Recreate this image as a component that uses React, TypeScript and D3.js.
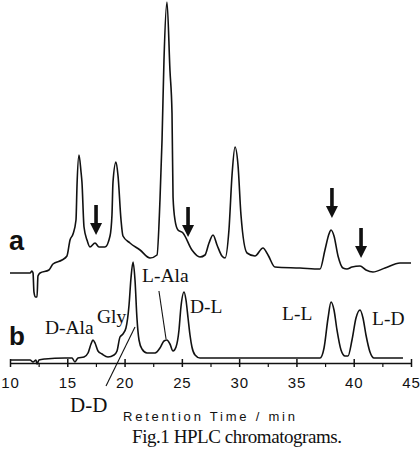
import { useEffect, useRef } from 'react'
import * as d3 from 'd3'

// trace a (sample): retention time / min, detector signal (a.u.)
const traceATime = [
  10.0, 11.75, 11.92, 12.01, 12.09, 12.23, 12.36, 12.44, 12.62, 13.4, 13.75, 14.54, 14.97, 15.24, 15.5,
  15.76, 15.85, 16.02, 16.2, 16.28, 16.46, 16.72, 16.98, 17.42, 17.77, 18.29, 18.73, 18.9, 18.99, 19.25,
  19.43, 19.69, 19.86, 20.47, 21.35, 22.22, 22.83, 23.09, 23.27, 23.44, 23.7, 23.96, 24.14, 24.23, 24.4,
  24.66, 25.1, 25.88, 26.58, 27.02, 27.37, 27.72, 28.07, 28.5, 28.77, 29.11, 29.38, 29.64, 29.9, 30.16,
  30.69, 31.38, 32.08, 32.52, 33.13, 35.31, 37.06, 37.49, 37.84, 38.02, 38.28, 38.63, 39.06, 39.41, 39.85,
  40.55, 41.07, 41.68, 42.73, 44.04, 45.0,
]
const traceASignal = [
  27, 27, 29, 27, 8, 3, 3, 24, 27, 30, 36, 40, 44, 60, 66,
  80, 115, 145, 128, 118, 73, 60, 53, 57, 53, 53, 64, 85, 118, 138,
  124, 80, 64, 57, 50, 42, 45, 100, 160, 240, 298, 230, 187, 103, 80,
  70, 67, 50, 43, 45, 57, 65, 55, 44, 42, 70, 125, 153, 135, 85,
  47, 44, 52, 45, 33, 32, 31, 50, 66, 70, 64, 44, 32, 31, 33,
  34, 30, 28, 32, 37, 37,
]

// trace b (standards)
const traceBTime = [
  10.0, 11.75, 12.01, 12.27, 12.36, 12.53, 13.05, 14.8, 15.41, 15.67, 15.93, 16.46, 16.81, 17.07, 17.24,
  17.42, 17.68, 18.03, 18.55, 19.08, 19.34, 19.6, 19.86, 20.12, 20.39, 20.56, 20.74, 20.91, 21.08, 21.26,
  21.52, 21.96, 22.66, 23.09, 23.44, 23.7, 23.96, 24.23, 24.49, 24.75, 24.92, 25.19, 25.36, 25.54, 25.71,
  25.88, 26.15, 26.58, 37.06, 37.41, 37.76, 38.02, 38.28, 38.54, 38.89, 39.24, 39.5, 39.85, 40.2, 40.55,
  40.81, 41.07, 41.42, 41.77, 44.3,
]
const traceBSignal = [
  0, 0, -2, 0, -4, 0, 1, 2, 2, -2, 2, 3, 7, 16, 20,
  17, 9, 6, 3, 5, 9, 23, 26, 32, 55, 82, 98, 80, 42, 20,
  11, 7, 7, 12, 19, 20, 16, 9, 13, 30, 53, 68, 60, 42, 25,
  13, 5, 2, 2, 12, 42, 58, 50, 30, 10, 4, 4, 20, 42, 50,
  42, 25, 8, 2, 2,
]

const majorTicks = [10, 15, 20, 25, 30, 35, 40, 45]
const minorTicks = [12.5, 17.5, 22.5, 27.5, 32.5, 37.5, 42.5]

// arrows on trace a (tip position)
const arrowTime = [17.51, 25.54, 38.1, 40.64]
const arrowSignal = [65, 63, 82, 42]

// peak names on trace b
const peakNames = ['D-Ala', 'Gly', 'L-Ala', 'D-L', 'L-L', 'L-D', 'D-D']
const peakNameTime = [13.05, 17.59, 21.52, 25.71, 33.74, 41.6, 15.24]
const peakNameSignal = [26, 37, 78, 47, 40, 35, -52]

// leader lines on trace b
const leaderFromTime = [23.0, 18.38]
const leaderFromSignal = [69, -26]
const leaderToTime = [23.62, 20.91]
const leaderToSignal = [21, 33]

const App = () => {
  const svgRef = useRef<SVGSVGElement>(null)

  useEffect(() => {
    if (!svgRef.current) return
    const svg = d3.select(svgRef.current)
    svg.selectAll('*').remove()

    const ink = '#111'
    const serif = '"Liberation Serif", "Times New Roman", serif'
    const sans = '"Liberation Sans", Arial, sans-serif'

    const x = d3.scaleLinear().domain([10, 45]).range([10, 411])
    const yA = d3.scaleLinear().domain([0, 300]).range([300, 0])
    const yB = d3.scaleLinear().domain([0, 100]).range([360, 260])
    const axisY = 363

    const dataA = traceATime.map((t, i) => [t, traceASignal[i]] as [number, number])
    const dataB = traceBTime.map((t, i) => [t, traceBSignal[i]] as [number, number])

    const lineA = d3.line<[number, number]>().x(d => x(d[0])).y(d => yA(d[1])).curve(d3.curveMonotoneX)
    const lineB = d3.line<[number, number]>().x(d => x(d[0])).y(d => yB(d[1])).curve(d3.curveMonotoneX)

    svg.append('path').attr('d', lineA(dataA)).attr('fill', 'none')
      .attr('stroke', ink).attr('stroke-width', 1.6).attr('stroke-linejoin', 'round')
    svg.append('path').attr('d', lineB(dataB)).attr('fill', 'none')
      .attr('stroke', ink).attr('stroke-width', 1.6).attr('stroke-linejoin', 'round')

    // x axis
    const gx = svg.append('g').attr('transform', `translate(0,${axisY})`)
      .call(d3.axisBottom(x).tickValues(majorTicks).tickSizeInner(4).tickSizeOuter(0).tickFormat(d3.format('d')))
    gx.attr('font-family', sans).attr('font-size', 15)
    gx.select('.domain').attr('stroke', ink).attr('stroke-width', 1.5)
    gx.selectAll('.tick line').attr('y1', -4).attr('y2', 4).attr('stroke', ink).attr('stroke-width', 1.5)
    gx.selectAll('.tick text').attr('y', 25).attr('dy', null).attr('fill', ink).attr('letter-spacing', 0.8)

    const gm = svg.append('g').attr('transform', `translate(0,${axisY})`)
      .call(d3.axisBottom(x).tickValues(minorTicks).tickSize(4).tickFormat(() => ''))
    gm.select('.domain').remove()
    gm.selectAll('.tick line').attr('stroke', ink).attr('stroke-width', 1.2)

    // arrows
    arrowTime.forEach((t, i) => {
      const tx = x(t)
      const ty = yA(arrowSignal[i])
      svg.append('path')
        .attr('d', `M${tx - 1.8},${ty - 30}H${tx + 1.8}V${ty - 12}H${tx + 6}L${tx},${ty}L${tx - 6},${ty - 12}H${tx - 1.8}Z`)
        .attr('fill', ink)
    })

    // leader lines
    leaderFromTime.forEach((t, i) => {
      svg.append('line')
        .attr('x1', x(t)).attr('y1', yB(leaderFromSignal[i]))
        .attr('x2', x(leaderToTime[i])).attr('y2', yB(leaderToSignal[i]))
        .attr('stroke', ink).attr('stroke-width', 1.1)
    })

    // peak names
    svg.selectAll('.peak')
      .data(peakNames)
      .enter()
      .append('text')
      .attr('class', 'peak')
      .attr('x', (_, i) => x(peakNameTime[i]))
      .attr('y', (_, i) => yB(peakNameSignal[i]))
      .attr('font-family', serif)
      .attr('font-size', d => (d === 'D-D' ? 21 : 19.5))
      .attr('fill', ink)
      .text(d => d)

    // trace letters
    svg.append('text').attr('x', 9).attr('y', 250).text('a')
      .attr('font-family', sans).attr('font-weight', 'bold').attr('font-size', 27).attr('fill', ink)
    svg.append('text').attr('x', 9).attr('y', 345).text('b')
      .attr('font-family', sans).attr('font-weight', 'bold').attr('font-size', 26).attr('fill', ink)

    // axis title
    svg.append('text').attr('x', 123).attr('y', 421)
      .attr('font-family', sans).attr('font-size', 13).attr('fill', ink)
      .attr('textLength', 172).attr('lengthAdjust', 'spacing')
      .text('Retention Time / min')

    // caption
    svg.append('text').attr('x', 132).attr('y', 443)
      .attr('font-family', serif).attr('font-size', 19).attr('fill', ink)
      .attr('textLength', 210).attr('lengthAdjust', 'spacing')
      .text('Fig.1 HPLC chromatograms.')
  }, [])

  return (
    <svg
      ref={svgRef}
      width={420}
      height={452}
      style={{ position: 'absolute', left: 0, top: 0, background: '#fff' }}
    />
  )
}

export default App
